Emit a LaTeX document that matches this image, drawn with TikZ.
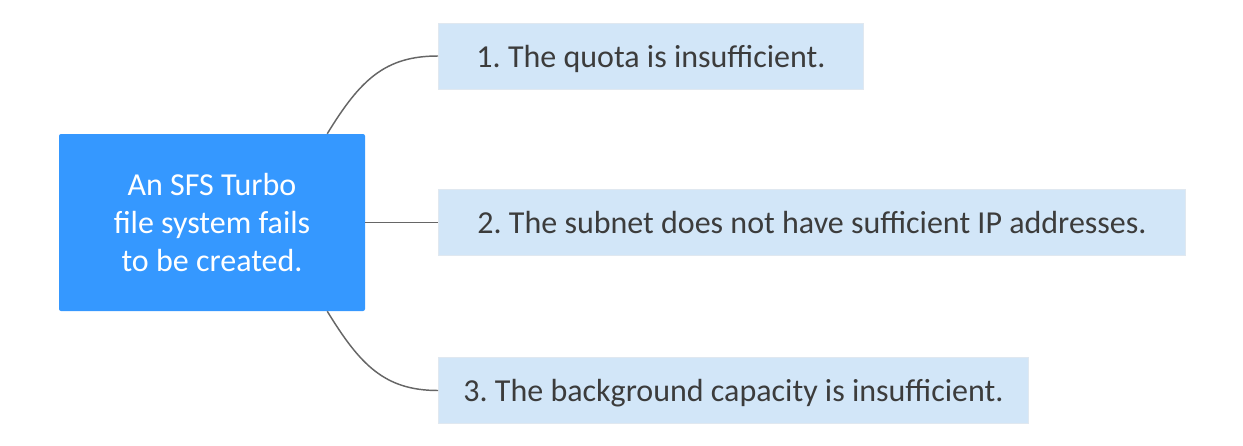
\documentclass[tikz,border=0pt]{standalone}
\usepackage{fontspec}
\setmainfont{Carlito}
\frenchspacing
\definecolor{rootblue}{RGB}{53,152,255}
\definecolor{leafblue}{RGB}{210,230,248}
\definecolor{leafedge}{RGB}{224,232,240}
\definecolor{leaftext}{RGB}{60,60,60}
\definecolor{linkgrey}{RGB}{102,102,102}
\begin{document}
\begin{tikzpicture}[x=0.75pt,y=-0.75pt,
  root/.style={fill=rootblue, rounded corners=1.5pt, text=white, align=center,
    font=\fontsize{24}{28.5}\selectfont, minimum width=229.5pt, minimum height=132.75pt, inner sep=0pt},
  leaf/.style={fill=leafblue, draw=leafedge, line width=0.75pt, text=leaftext,
    font=\fontsize{24}{28}\selectfont, text height=21.5pt, text depth=5pt,
    minimum height=49.5pt, inner sep=0pt, anchor=west},
  link/.style={draw=linkgrey, line width=1.1pt}]
\useasboundingbox (0,0) rectangle (1243,446);
\node[root] (root) at (212,222.5) {An SFS Turbo\\file system fails\\to be created.};
\node[leaf, minimum width=318.75pt] (l1) at (438,56) {1. The quota is insufficient.};
\node[leaf, minimum width=560.25pt] (l2) at (438,222.5) {2. The subnet does not have sufficient IP addresses.};
\node[leaf, minimum width=442.5pt] (l3) at (438,390.5) {3. The background capacity is insufficient.};
\coordinate (rt) at ([xshift=-28.5pt]root.north east);
\coordinate (rb) at ([xshift=-28.5pt]root.south east);
\draw[link] (rt) .. controls +(33,-54) and +(-53,0) .. (l1.west);
\draw[link] (root.east) -- (l2.west);
\draw[link] (rb) .. controls +(33,54) and +(-53,0) .. (l3.west);
\end{tikzpicture}
\end{document}
